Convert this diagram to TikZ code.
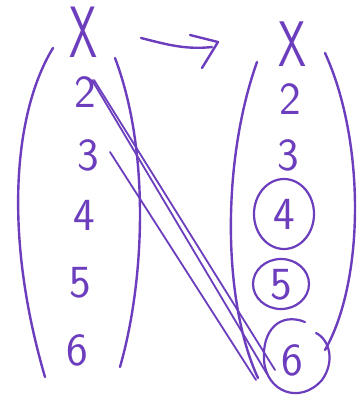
\documentclass[tikz,border=0pt]{standalone}
\usepackage{graphicx}
\definecolor{ink}{RGB}{108,62,190}
\begin{document}
\begin{tikzpicture}[x=1pt,y=-1pt,
  pen/.style={draw=ink,line width=2.4pt,line cap=round,line join=round},
  num/.style={text=ink,font=\sffamily\fontsize{46}{46}\selectfont,inner sep=0pt,text height=30pt,text depth=0pt},
  bigx/.style={text=ink,font=\sffamily\fontsize{56}{56}\selectfont,inner sep=0pt,text depth=0pt},
  ring/.style={pen,line width=2.2pt}]
\useasboundingbox (0,0) rectangle (363,401);
\fill[white] (0,0) rectangle (363,401);
% left set
\draw[pen] (53,48) .. controls (15,110) and (2,230) .. (45,377);
\draw[pen] (115,58) .. controls (150,150) and (145,280) .. (120,367);
\node[bigx] (lx) at (83,32) {\scalebox{0.8}[1.3]{X}};
\node[num] (l2) at (85,92) {2};
\node[num] (l3) at (88,155) {3};
\node[num] (l4) at (84,215) {4};
\node[num] (l5) at (80,282) {5};
\node[num] (l6) at (77,350) {6};
% right set
\draw[pen] (257,62) .. controls (222,160) and (222,300) .. (258,378);
\draw[pen] (325,53) .. controls (365,140) and (365,280) .. (325,350);
\node[bigx] (rx) at (292,44) {\scalebox{0.8}[1.15]{X}};
\node[num] (r2) at (290,99) {2};
\node[num] (r3) at (288,155) {3};
\node[num] (r4) at (284,214) {4};
\node[num] (r5) at (281,284) {5};
\node[num] (r6) at (292,360) {6};
\draw[ring] (r4) ellipse [x radius=30,y radius=35];
\draw[ring] (r5) ellipse [x radius=28,y radius=25];
\draw[ring] (305,322) .. controls (280,312) and (262,330) .. (264,360)
  .. controls (266,392) and (300,405) .. (322,380)
  .. controls (335,362) and (330,340) .. (316,333);
% maps-to arrow
\coordinate (a0) at (141,38);
\coordinate (a1) at (212,47);
\draw[pen] (a0) .. controls (165,44) and (185,50) .. (a1);
\draw[pen] (190,35) -- (218,42) -- (202,68);
% connectors
\coordinate (e1) at (267,374);
\coordinate (e2) at (275,370);
\coordinate (e3) at (256,380);
\draw[pen,line width=1.8pt] (l2.center) ++(7,-12) -- (e1);
\draw[pen,line width=1.8pt] (l2.center) ++(9,-12) -- (e2);
\draw[pen,line width=1.8pt] (l3.center) ++(22,-3) -- (e3);
\end{tikzpicture}
\end{document}
